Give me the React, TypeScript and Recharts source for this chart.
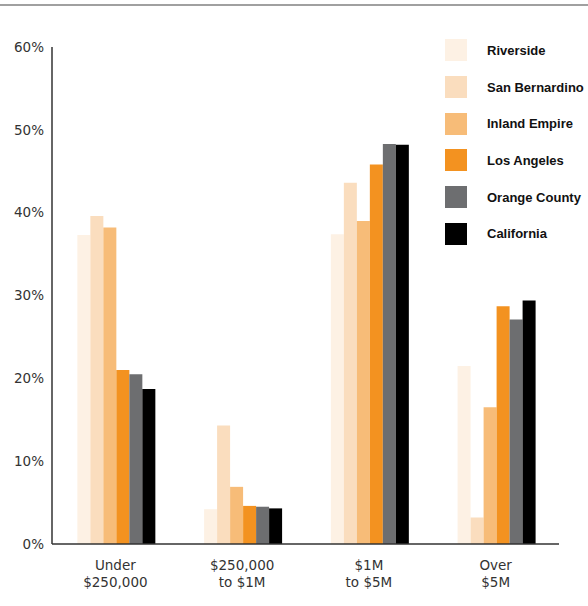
import React from 'react';
import { Bar, BarChart, XAxis, YAxis } from 'recharts';

const categories = ['Under $250,000', '$250,000 to $1M', '$1M to $5M', 'Over $5M'];
const tickLines = [
  ['Under', '$250,000'],
  ['$250,000', 'to $1M'],
  ['$1M', 'to $5M'],
  ['Over', '$5M'],
];

const riverside = [37.3, 4.2, 37.4, 21.5];
const sanBernardino = [39.6, 14.3, 43.6, 3.2];
const inlandEmpire = [38.2, 6.9, 39.0, 16.5];
const losAngeles = [21.0, 4.6, 45.8, 28.7];
const orangeCounty = [20.5, 4.5, 48.3, 27.1];
const california = [18.7, 4.3, 48.2, 29.4];

const yTicks = [0, 10, 20, 30, 40, 50, 60];

const series = [
  { key: 'riverside', name: 'Riverside', color: '#FDF1E4', values: riverside },
  { key: 'sanBernardino', name: 'San Bernardino', color: '#FADDBE', values: sanBernardino },
  { key: 'inlandEmpire', name: 'Inland Empire', color: '#F7BC78', values: inlandEmpire },
  { key: 'losAngeles', name: 'Los Angeles', color: '#F39220', values: losAngeles },
  { key: 'orangeCounty', name: 'Orange County', color: '#6D6E70', values: orangeCounty },
  { key: 'california', name: 'California', color: '#000000', values: california },
];

// one row per price range, one field per region
const chartData = categories.map((name, i) => {
  const row: Record<string, string | number> = { name };
  series.forEach((s) => {
    row[s.key] = s.values[i];
  });
  return row;
});

const FONT = '"DejaVu Sans", sans-serif';

const MultiLineTick = (props: any) => {
  const { x, y, payload } = props;
  const lines = tickLines[payload.index] || [payload.value];
  return (
    <text x={x} y={y} textAnchor="middle" fill="#333" fontSize={13.5} fontFamily={FONT}>
      {lines.map((line, i) => (
        <tspan key={i} x={x} dy={i === 0 ? 18 : 17}>
          {line}
        </tspan>
      ))}
    </text>
  );
};

// legend drawn as an overlay so the plot keeps its full size
const LegendBox = () => (
  <div style={{ position: 'absolute', left: 445, top: 32 }}>
    {series.map((s) => (
      <div key={s.key} style={{ display: 'flex', alignItems: 'center', height: 36.7 }}>
        <div style={{ width: 22, height: 22, background: s.color }} />
        <span
          style={{
            marginLeft: 20,
            fontFamily: '"Liberation Sans", Arial, sans-serif',
            fontWeight: 700,
            fontSize: 13,
            color: '#111',
            whiteSpace: 'nowrap',
          }}
        >
          {s.name}
        </span>
      </div>
    ))}
  </div>
);

const App: React.FC = () => {
  return (
    <div style={{ position: 'absolute', left: 0, top: 0, width: 588, height: 606, background: '#fff' }}>
      <div style={{ position: 'absolute', left: 0, top: 4, width: 588, height: 2, background: '#A0A0A0' }} />
      <BarChart
        width={588}
        height={606}
        data={chartData}
        margin={{ top: 47, right: 29, left: 0, bottom: 12 }}
        barCategoryGap="20%"
        barGap={0}
      >
        <XAxis
          dataKey="name"
          tick={<MultiLineTick />}
          tickLine={false}
          axisLine={{ stroke: '#333', strokeWidth: 1.5 }}
          height={50}
          interval={0}
        />
        <YAxis
          domain={[0, 60]}
          ticks={yTicks}
          tickFormatter={(v: number) => `${v}%`}
          tickLine={false}
          axisLine={{ stroke: '#333', strokeWidth: 1.5 }}
          tick={{ fill: '#333', fontSize: 13.5, fontFamily: FONT }}
          width={52}
        />
        {series.map((s) => (
          <Bar key={s.key} dataKey={s.key} name={s.name} fill={s.color} isAnimationActive={false} />
        ))}
      </BarChart>
      <LegendBox />
    </div>
  );
};

export default App;
